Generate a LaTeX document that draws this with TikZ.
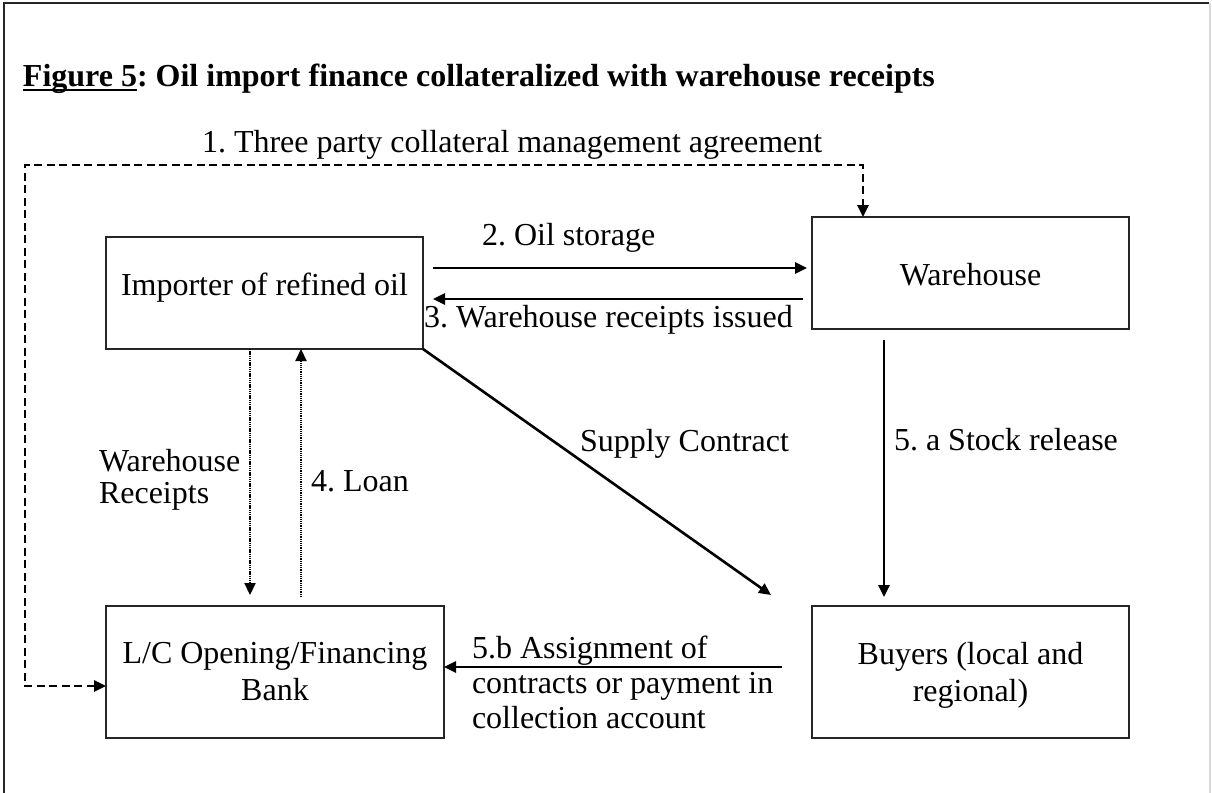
\documentclass[tikz,border=0pt]{standalone}
\usepackage{fontspec}
\setmainfont{Liberation Serif}
\usetikzlibrary{arrows.meta}
\frenchspacing
\begin{document}
\begin{tikzpicture}[x=1pt,y=-1pt,
  every node/.style={inner sep=0pt, outer sep=0pt},
  box/.style={draw=black!85, line width=1.4pt, rectangle},
  lbl/.style={font=\fontsize{32}{36.6}\selectfont},
  ttl/.style={font=\fontsize{32}{36.6}\selectfont\bfseries},
  tip/.style={-{Triangle[length=12pt,width=11pt]}},
  arr/.style={tip, line width=2.6pt},
  dotarr/.style={tip, line width=2.2pt, dash pattern=on 1.3pt off 0.9pt},
  dasharr/.style={{Triangle[length=12pt,width=11pt]}-{Triangle[length=12pt,width=11pt]}, line width=2.6pt, dash pattern=on 8pt off 4.5pt}
]
\useasboundingbox (0,0) rectangle (1212,792);
% frame
\draw[line width=2pt, black!85] (4,800) -- (4,3) -- (1209,3);
\draw[line width=2pt, black!15] (1210,3) -- (1210,800);

% title
\node[ttl, anchor=base west] (title) at (23,86) {Figure 5: Oil import finance collateralized with warehouse receipts};
\coordinate (ul1) at (23,90);
\coordinate (ul2) at (137,90);
\draw[line width=2.4pt] (ul1) -- (ul2);

% boxes
\node[box, minimum width=317pt, minimum height=112pt] (imp) at (264.5,293) {};
\node[box, minimum width=317pt, minimum height=112pt] (wh) at (970.5,273) {};
\node[box, minimum width=338pt, minimum height=132pt] (bank) at (275,672) {};
\node[box, minimum width=317pt, minimum height=132pt] (buy) at (970.5,672) {};

% box texts
\node[lbl, anchor=base] (impt) at (264.5,295) {Importer of refined oil};
\node[lbl, anchor=base] (wht) at (970.5,285) {Warehouse};
\node[lbl, anchor=north, align=center] (bankt) at (275,642.5) {L/C Opening/Financing\\Bank};
\node[lbl, anchor=north, align=center] (buyt) at (970.5,642.5) {Buyers (local and\\regional)};

% helper coordinates
\coordinate (y2) at (0,268);
\coordinate (y3) at (0,299);
\coordinate (xwr) at (250,0);
\coordinate (xln) at (301,0);
\coordinate (xsr) at (884,0);
\coordinate (y5b) at (0,667);
\coordinate (sce) at (771,595);
\coordinate (dc1) at (25,686);
\coordinate (dc2) at (25,165);
\coordinate (dc3) at (863,165);

% 1. dashed three-party agreement
\draw[dasharr] (bank.west |- dc1) -- (dc1) -- (dc2) -- (dc3) -- (wh.north -| dc3);
\node[lbl, anchor=base west] (l1) at (202,152) {1. Three party collateral management agreement};

% 2. oil storage
\draw[arr, shorten <=10pt, shorten >=5pt] (imp.east |- y2) -- (wh.west |- y2);
\node[lbl, anchor=base west] (l2) at (482,245) {2. Oil storage};

% 3. warehouse receipts issued
\draw[arr, shorten <=9pt, shorten >=10pt] (wh.west |- y3) -- (imp.east |- y3);
\node[lbl, anchor=base west] (l3) at (424,327) {3. Warehouse receipts issued};

% warehouse receipts (dotted down)
\draw[dotarr, shorten >=11pt] (imp.south -| xwr) -- (bank.north -| xwr);
\node[lbl, anchor=base west] (lwr) at (99,471) {Warehouse};
\node[lbl, anchor=base west] (lwr2) at (99,503) {Receipts};

% 4. loan (dotted up)
\draw[dotarr, shorten <=9pt] (bank.north -| xln) -- (imp.south -| xln);
\node[lbl, anchor=base west] (l4) at (311,491) {4. Loan};

% supply contract
\draw[arr] (imp.south east) -- (sce);
\node[lbl, anchor=base west] (lsc) at (580,451) {Supply Contract};

% 5.a stock release
\draw[arr, shorten <=11pt, shorten >=9pt] (wh.south -| xsr) -- (buy.north -| xsr);
\node[lbl, anchor=base west] (l5a) at (894,450) {5. a Stock release};

% 5.b assignment
\draw[arr, shorten <=30pt] (buy.west |- y5b) -- (bank.east |- y5b);
\node[lbl, anchor=base west] (l5b1) at (472,658) {5.b Assignment of};
\node[lbl, anchor=base west] (l5b2) at (472,693) {contracts or payment in};
\node[lbl, anchor=base west] (l5b3) at (472,728) {collection account};
\end{tikzpicture}
\end{document}
